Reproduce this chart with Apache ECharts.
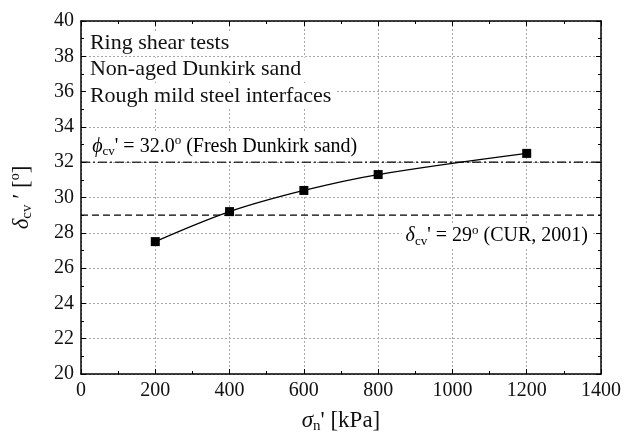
<!DOCTYPE html>
<html>
<head>
<meta charset="utf-8">
<script src="https://cdn.jsdelivr.net/npm/echarts@6/dist/echarts.min.js"></script>
<style>
html,body{margin:0;padding:0;background:#fff;}
#c{width:624px;height:439px;}
</style>
</head>
<body>
<div id="c"></div>
<script>
// ---- data ----
const stressKPa = [200, 400, 600, 800, 1200];
const deltaCv = [27.5, 29.2, 30.4, 31.3, 32.5];
const phiCvFresh = 32.0;
const deltaCUR = 29;
const xTicks = [0, 200, 400, 600, 800, 1000, 1200, 1400];
const yTicks = [20, 22, 24, 26, 28, 30, 32, 34, 36, 38, 40];
const infoLines = ['Ring shear tests', 'Non-aged Dunkirk sand', 'Rough mild steel interfaces'];

const FONT = '"Liberation Serif", "Times New Roman", serif';
const TXT = '#111';

const chart = echarts.init(document.getElementById('c'), null, {renderer: 'canvas'});

const richBase = {
  n: {fontFamily: FONT, fontSize: 23, color: TXT, lineHeight: 27},
  i: {fontFamily: FONT, fontSize: 23, color: TXT, fontStyle: 'italic', lineHeight: 27},
  sub: {fontFamily: FONT, fontSize: 15, color: TXT, lineHeight: 15, verticalAlign: 'bottom'},
  sup: {fontFamily: FONT, fontSize: 14, color: TXT, lineHeight: 16, verticalAlign: 'top'}
};
const richAnn = {
  n: {fontFamily: FONT, fontSize: 20, color: TXT, lineHeight: 24},
  i: {fontFamily: FONT, fontSize: 20, color: TXT, fontStyle: 'italic', lineHeight: 24},
  sub: {fontFamily: FONT, fontSize: 13, color: TXT, lineHeight: 13, verticalAlign: 'bottom'},
  sup: {fontFamily: FONT, fontSize: 13, color: TXT, lineHeight: 14, verticalAlign: 'top'}
};

function mainAxis(extra) {
  return Object.assign({
    type: 'value',
    axisLine: {show: true, onZero: false, lineStyle: {color: '#000', width: 1.5}},
    axisTick: {show: true, inside: true, length: 5, lineStyle: {color: '#000', width: 1}},
    minorTick: {show: true, splitNumber: 2, length: 3, lineStyle: {color: '#000', width: 1}},
    splitLine: {show: true, lineStyle: {color: '#a8a8a8', width: 1, type: [2, 2]}},
    axisLabel: {fontFamily: FONT, fontSize: 20, color: TXT, margin: 7, formatter: v => String(v)}
  }, extra);
}
function mirrorAxis(extra) {
  return Object.assign({
    type: 'value',
    axisLine: {show: true, onZero: false, lineStyle: {color: '#000', width: 1.5}},
    axisTick: {show: true, inside: true, length: 5, lineStyle: {color: '#000', width: 1}},
    minorTick: {show: true, splitNumber: 2, length: 3, lineStyle: {color: '#000', width: 1}},
    splitLine: {show: false},
    axisLabel: {show: false}
  }, extra);
}

chart.setOption({
  animation: false,
  backgroundColor: '#fff',
  grid: {left: 81, right: 22, top: 21, bottom: 63},
  xAxis: [
    mainAxis({min: xTicks[0], max: xTicks[xTicks.length - 1], interval: xTicks[1] - xTicks[0], position: 'bottom',
      name: '{i|σ}{sub|n}{n|\' [kPa]}', nameLocation: 'middle', nameGap: 33,
      nameTextStyle: {rich: richBase}}),
    mirrorAxis({min: xTicks[0], max: xTicks[xTicks.length - 1], interval: xTicks[1] - xTicks[0], position: 'top'})
  ],
  yAxis: [
    mainAxis({min: yTicks[0], max: yTicks[yTicks.length - 1], interval: yTicks[1] - yTicks[0], position: 'left',
      name: '{i|δ}{sub|cv}{n| ′ [}{sup|o}{n|]}', nameLocation: 'middle', nameGap: 46, nameRotate: 90,
      nameTextStyle: {rich: richBase}}),
    mirrorAxis({min: yTicks[0], max: yTicks[yTicks.length - 1], interval: yTicks[1] - yTicks[0], position: 'right'})
  ],
  series: [
    {
      type: 'line', silent: true, symbol: 'none',
      data: [[xTicks[0], phiCvFresh], [xTicks[xTicks.length - 1], phiCvFresh]],
      lineStyle: {color: '#000', width: 1.2, type: [9, 3, 2, 3]}, z: 3
    },
    {
      type: 'line', silent: true, symbol: 'none',
      data: [[xTicks[0], deltaCUR], [xTicks[xTicks.length - 1], deltaCUR]],
      lineStyle: {color: '#000', width: 1.2, type: [7, 4]}, z: 3
    },
    {
      type: 'line', smooth: 0.35,
      data: stressKPa.map((x, k) => [x, deltaCv[k]]),
      symbol: 'rect', symbolSize: 9,
      itemStyle: {color: '#000'},
      lineStyle: {color: '#000', width: 1.3}, z: 5
    }
  ]
});

// annotations anchored in data coordinates
function px(x, y) { return chart.convertToPixel({xAxisIndex: 0, yAxisIndex: 0}, [x, y]); }
const g = [];
const infoY = [38.76, 37.24, 35.72];
infoLines.forEach((t, k) => {
  const p = px(24, infoY[k]);
  g.push({type: 'text', x: p[0] - 4, y: p[1], z: 10,
    style: {text: t, font: '22px ' + FONT, fill: TXT, verticalAlign: 'middle', align: 'left',
      backgroundColor: '#fff', padding: [1, 4, 1, 4]}});
});
{
  const p = px(30, 32.9);
  g.push({type: 'text', x: p[0] - 4, y: p[1], z: 10,
    style: {text: '{i|ϕ}{sub|cv}{n|\' = 32.0}{sup|o}{n| (Fresh Dunkirk sand)}', rich: richAnn,
      verticalAlign: 'middle', align: 'left', backgroundColor: '#fff', padding: [3, 4, 3, 4]}});
}
{
  const p = px(1365, 27.83);
  g.push({type: 'text', x: p[0] + 3, y: p[1], z: 10,
    style: {text: '{i|δ}{sub|cv}{n|\' = 29}{sup|o}{n| (CUR, 2001)}', rich: richAnn,
      verticalAlign: 'middle', align: 'right', backgroundColor: '#fff', padding: [0, 3, 0, 4]}});
}
chart.setOption({graphic: g});
</script>
</body>
</html>
